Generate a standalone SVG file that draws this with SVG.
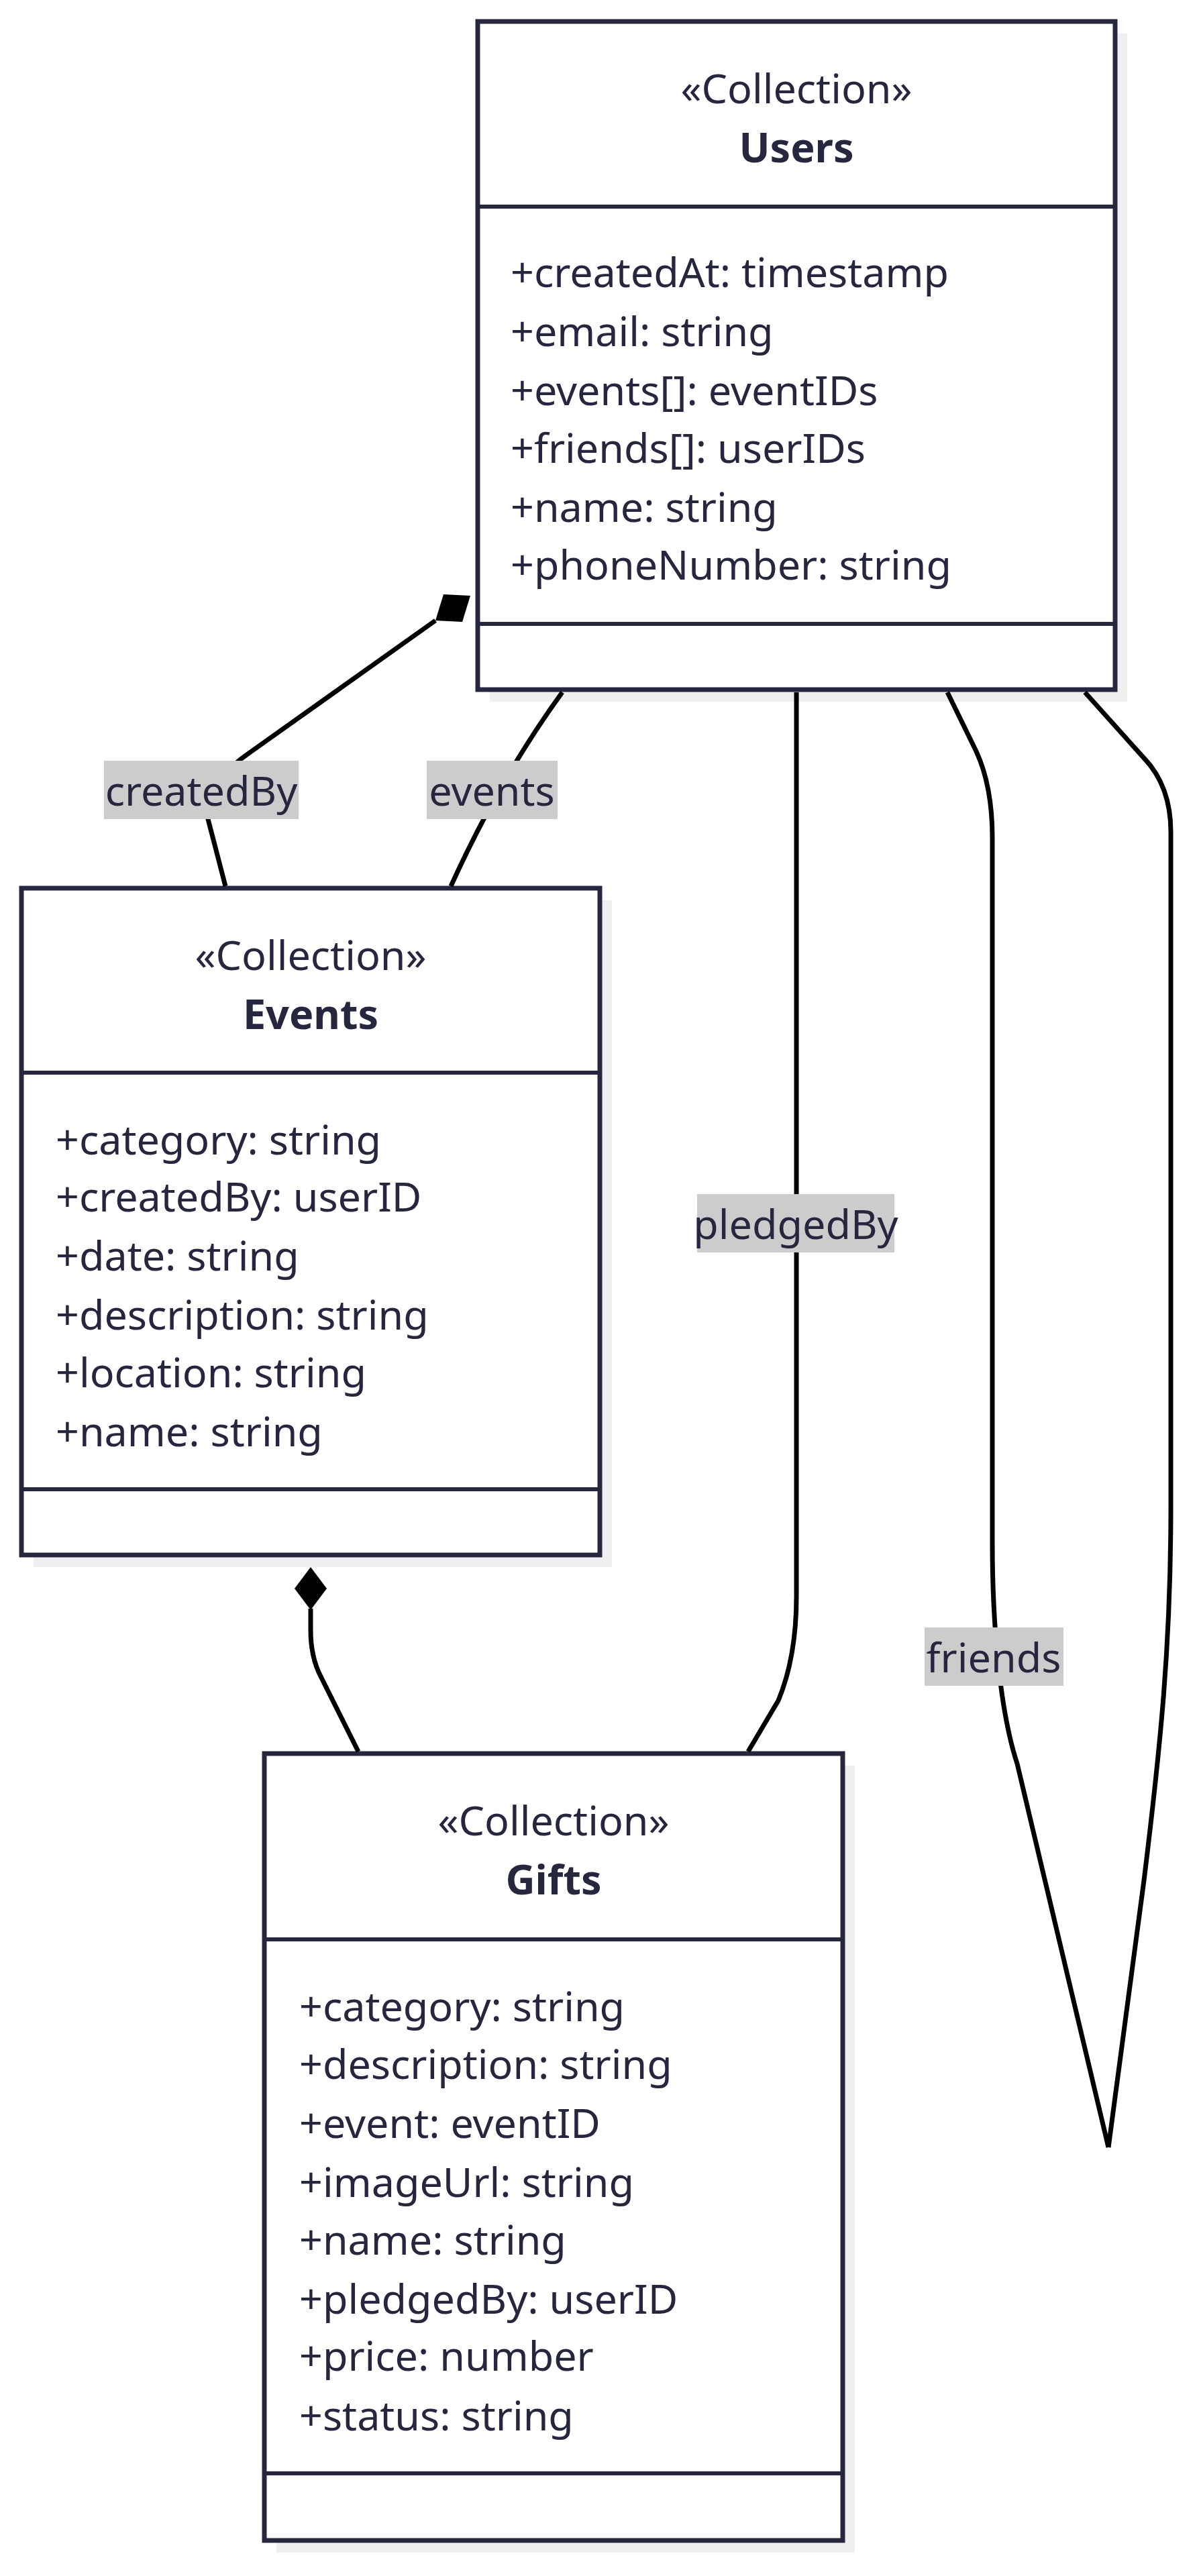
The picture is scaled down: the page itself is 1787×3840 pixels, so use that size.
<svg xmlns="http://www.w3.org/2000/svg" width="1787" height="3840" viewBox="0 0 1787 3840">
<style>
.bg{fill:#ffffff}
.shadow{fill:#efefef}
.box{fill:#ffffff;stroke:#27263f;stroke-width:7}
.div{stroke:#27263f;stroke-width:6}
.t{font-family:"Noto Sans","Open Sans",sans-serif;font-size:61px;fill:#27263f;dominant-baseline:central}
.c{text-anchor:middle}
.b{font-weight:bold}
.edge{fill:none;stroke:#000000;stroke-width:7}
.lbl{fill:#cccccc}
.dia{fill:#000000}
</style>
<rect class="bg" x="0" y="0" width="1787" height="3840"/>

<g id="Users">
  <rect class="shadow" x="730" y="50" width="950" height="996"/>
  <rect class="box" x="712" y="32" width="950" height="996"/>
  <line class="div" x1="712" y1="308" x2="1662" y2="308"/>
  <line class="div" x1="712" y1="930" x2="1662" y2="930"/>
  <text class="t c" x="1187" y="130">«Collection»</text>
  <text class="t c b" x="1187" y="218">Users</text>
  <text class="t" x="761" y="404">+createdAt: timestamp</text>
  <text class="t" x="761" y="492">+email: string</text>
  <text class="t" x="761" y="580">+events[]: eventIDs</text>
  <text class="t" x="761" y="666">+friends[]: userIDs</text>
  <text class="t" x="761" y="754">+name: string</text>
  <text class="t" x="761" y="840">+phoneNumber: string</text>
</g>

<g id="Events">
  <rect class="shadow" x="50" y="1342" width="862" height="994"/>
  <rect class="box" x="32" y="1324" width="862" height="994"/>
  <line class="div" x1="32" y1="1599" x2="894" y2="1599"/>
  <line class="div" x1="32" y1="2220" x2="894" y2="2220"/>
  <text class="t c" x="463" y="1422">«Collection»</text>
  <text class="t c b" x="463" y="1510">Events</text>
  <text class="t" x="83" y="1697">+category: string</text>
  <text class="t" x="83" y="1782">+createdBy: userID</text>
  <text class="t" x="83" y="1870">+date: string</text>
  <text class="t" x="83" y="1958">+description: string</text>
  <text class="t" x="83" y="2044">+location: string</text>
  <text class="t" x="83" y="2132">+name: string</text>
</g>

<g id="Gifts">
  <rect class="shadow" x="412" y="2632" width="862" height="1173"/>
  <rect class="box" x="394" y="2614" width="862" height="1173"/>
  <line class="div" x1="394" y1="2891" x2="1256" y2="2891"/>
  <line class="div" x1="394" y1="3687" x2="1256" y2="3687"/>
  <text class="t c" x="825" y="2712">«Collection»</text>
  <text class="t c b" x="825" y="2800">Gifts</text>
  <text class="t" x="446" y="2989">+category: string</text>
  <text class="t" x="446" y="3075">+description: string</text>
  <text class="t" x="446" y="3163">+event: eventID</text>
  <text class="t" x="446" y="3251">+imageUrl: string</text>
  <text class="t" x="446" y="3337">+name: string</text>
  <text class="t" x="446" y="3425">+pledgedBy: userID</text>
  <text class="t" x="446" y="3510">+price: number</text>
  <text class="t" x="446" y="3599">+status: string</text>
</g>

<g id="connectors">
  <path class="edge" d="M649,925 L372,1122 Q300,1172 310,1221 L336,1321"/>
  <polygon class="dia" points="649,925 689,927 701,888 661,886"/>
  <path class="edge" d="M838,1032 Q745,1160 672,1321"/>
  <path class="edge" d="M1187,1032 L1187,2380 Q1187,2470 1160,2535 L1115,2611"/>
  <path class="edge" d="M463,2398 L463,2430 Q463,2470 478,2499 L534,2611"/>
  <polygon class="dia" points="463,2336 487,2368 463,2400 439,2368"/>
  <path class="edge" d="M1412,1032 L1455,1120 Q1479,1172 1479,1249 L1479,2300 C1479,2420 1490,2550 1516,2629 L1652,3201"/>
  <path class="edge" d="M1617,1032 L1705,1130 Q1745,1172 1745,1240 L1745,2250 C1745,2450 1730,2600 1705,2803 L1652,3201"/>
  <g id="label-createdBy">
    <rect class="lbl" x="155" y="1134" width="290" height="87"/>
    <text class="t c" x="300" y="1177">createdBy</text>
  </g>
  <g id="label-events">
    <rect class="lbl" x="636" y="1134" width="195" height="87"/>
    <text class="t c" x="733" y="1177">events</text>
  </g>
  <g id="label-pledgedBy">
    <rect class="lbl" x="1039" y="1780" width="294" height="87"/>
    <text class="t c" x="1186" y="1823">pledgedBy</text>
  </g>
  <g id="label-friends">
    <rect class="lbl" x="1378" y="2426" width="207" height="87"/>
    <text class="t c" x="1481" y="2469">friends</text>
  </g>
</g>
</svg>
